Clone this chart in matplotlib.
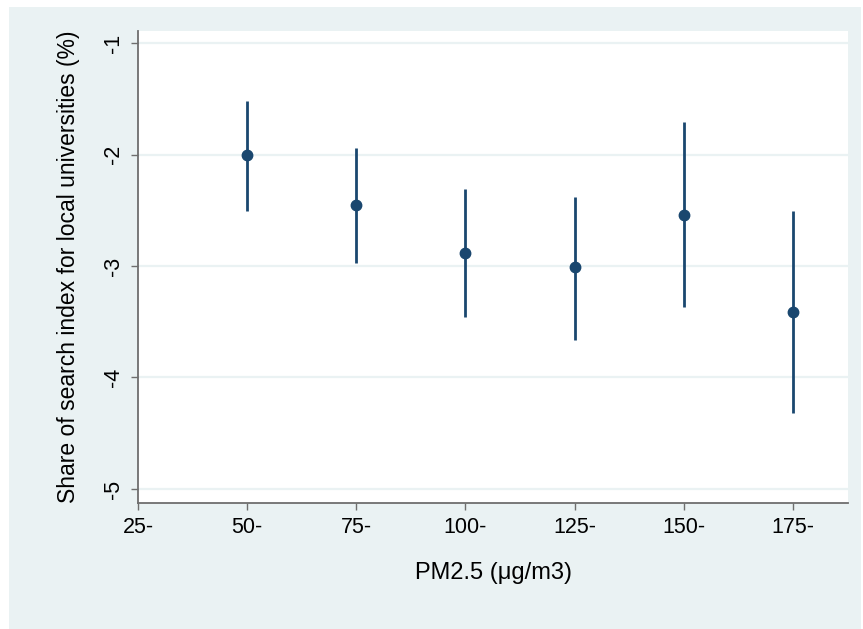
import matplotlib.pyplot as plt
from matplotlib.patches import Rectangle

plt.rcParams['font.family'] = ['Liberation Sans', 'DejaVu Sans']

pm_bins = [50, 75, 100, 125, 150, 175]
estimate = [-2.00, -2.45, -2.88, -3.01, -2.54, -3.41]
ci_high = [-1.52, -1.94, -2.31, -2.38, -1.71, -2.51]
ci_low = [-2.51, -2.97, -3.46, -3.66, -3.37, -4.32]

x_ticks = [25, 50, 75, 100, 125, 150, 175]
x_labels = ['25-', '50-', '75-', '100-', '125-', '150-', '175-']
y_ticks = [-1, -2, -3, -4, -5]

navy = '#1a476f'
bg = '#eaf2f3'
gray = '#6e6e6e'


def plot_coefs():
    fig = plt.figure(figsize=(8.63, 6.29), dpi=100, facecolor='white')
    fig.add_artist(Rectangle((9 / 863, 0), 852 / 863, 622 / 629,
                             transform=fig.transFigure, facecolor=bg,
                             edgecolor='none', zorder=-10))
    ax = fig.add_axes([138 / 863, 1 - 503 / 629, 710 / 863, 472 / 629])
    ax.set_facecolor('white')

    for y in y_ticks:
        ax.axhline(y, color=bg, lw=1.6, zorder=1)

    ax.vlines(pm_bins, ci_low, ci_high, color=navy, lw=2, zorder=3)
    ax.plot(pm_bins, estimate, 'o', color=navy, ms=7.5, zorder=4)

    ax.set_xlim(25, 187.6)
    ax.set_ylim(-5.126, -0.892)
    ax.set_xticks(x_ticks)
    ax.set_xticklabels(x_labels)
    ax.set_yticks(y_ticks)
    ax.set_yticklabels([str(v) for v in y_ticks], rotation=90, va='center')

    for side in ['top', 'right']:
        ax.spines[side].set_visible(False)
    for side in ['left', 'bottom']:
        ax.spines[side].set_color(gray)
        ax.spines[side].set_linewidth(1.3)

    ax.tick_params(axis='both', length=5, width=1, color=gray,
                   labelsize=15.5, labelcolor='black')
    ax.tick_params(axis='y', pad=5)
    ax.tick_params(axis='x', pad=5)

    ax.set_xlabel('PM2.5 (μg/m3)', fontsize=17, labelpad=17)
    ax.set_ylabel('Share of search index for local universities (%)',
                  fontsize=16.5, labelpad=17)

    fig.savefig('out.png', dpi=100, facecolor='white')


def main():
    plot_coefs()


if __name__ == '__main__':
    main()
